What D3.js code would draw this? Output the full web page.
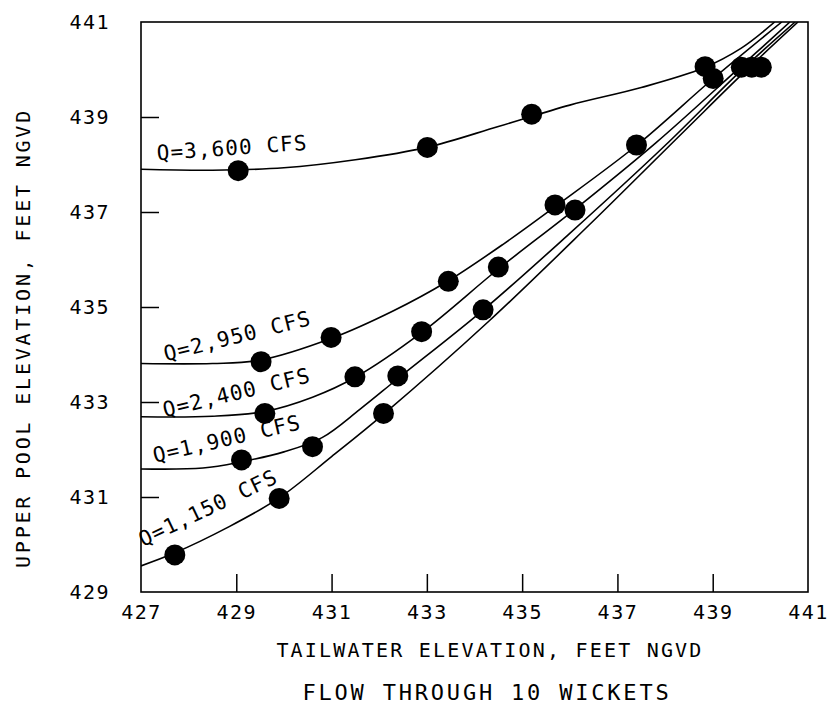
<!DOCTYPE html>
<html>
<head>
<meta charset="utf-8">
<script src="https://cdn.jsdelivr.net/npm/d3@7"></script>
<style>
  html, body { margin: 0; padding: 0; background: #fff; }
  svg { display: block; }
  text { font-family: "DejaVu Sans Mono", monospace; fill: #000; }
</style>
</head>
<body>
<svg id="chart" width="830" height="711"></svg>
<script>
// ---------- data ----------
const xTicks = [427, 429, 431, 433, 435, 437, 439, 441];
const yTicks = [429, 431, 433, 435, 437, 439, 441];

const seriesNames = ["Q=3,600 CFS", "Q=2,950 CFS", "Q=2,400 CFS", "Q=1,900 CFS", "Q=1,150 CFS"];

// observed points [tailwater, upper pool]
const pts3600 = [[429.04,437.87],[433.01,438.36],[435.20,439.06],[438.84,440.06]];
const pts2950 = [[429.52,433.85],[430.99,434.36],[433.45,435.54],[435.69,437.15],[437.40,438.41],[439.01,439.81]];
const pts2400 = [[429.60,432.76],[431.49,433.53],[432.89,434.48],[434.50,435.84],[436.11,437.04],[439.60,440.05]];
const pts1900 = [[429.11,431.78],[430.60,432.06],[432.39,433.55],[434.18,434.94],[439.82,440.05]];
const pts1150 = [[427.71,429.78],[429.90,430.97],[432.09,432.76],[440.02,440.05]];

// fitted curves
const crv3600 = [[427,437.90],[428.5,437.88],[430,437.93],[431.5,438.10],[433,438.36],[434.5,438.80],[436,439.25],[437.5,439.62],[438.8,440.03],[439.6,440.45],[440.3,441]];
const crv2950 = [[427,433.81],[428.5,433.81],[429.5,433.88],[431,434.34],[432.3,434.92],[433.4,435.52],[434.6,436.32],[435.7,437.12],[437.4,438.40],[439.0,439.80],[440.45,441]];
const crv2400 = [[427,432.69],[428.5,432.70],[429.6,432.80],[430.6,433.10],[431.5,433.52],[432.9,434.47],[434.5,435.80],[436.1,437.05],[437.8,438.45],[439.5,439.98],[440.62,441]];
const crv1900 = [[427,431.59],[428.3,431.61],[429.1,431.74],[430.0,431.95],[430.8,432.25],[431.6,432.85],[432.4,433.50],[434.2,434.95],[436.0,436.55],[438.0,438.40],[439.6,439.98],[440.73,441]];
const crv1150 = [[427,429.55],[427.7,429.82],[428.8,430.35],[429.9,430.98],[431.0,431.85],[432.1,432.75],[434.3,434.70],[436.4,436.72],[438.4,438.70],[439.7,439.98],[440.79,441]];

// ---------- layout ----------
const L = 141, R = 808, T = 22, B = 592;
const svg = d3.select("#chart");

const x = d3.scaleLinear().domain([427, 441]).range([L, R]);
const y = d3.scaleLinear().domain([429, 441]).range([B, T]);

const series = [
  {name: seriesNames[0], pts: pts3600, crv: crv3600, lab: [427.34, 438.09], ang: -4},
  {name: seriesNames[1], pts: pts2950, crv: crv2950, lab: [427.52, 433.86], ang: -14},
  {name: seriesNames[2], pts: pts2400, crv: crv2400, lab: [427.50, 432.68], ang: -13.5},
  {name: seriesNames[3], pts: pts1900, crv: crv1900, lab: [427.29, 431.72], ang: -13},
  {name: seriesNames[4], pts: pts1150, crv: crv1150, lab: [427.04, 429.95], ang: -25.5}
];

svg.append("defs").append("clipPath").attr("id", "plotclip")
  .append("rect").attr("x", L).attr("y", T).attr("width", R - L).attr("height", B - T);

// axes
const xAxis = d3.axisBottom(x).tickValues(xTicks).tickSize(-18).tickPadding(13).tickFormat(d3.format("d"));
const gx = svg.append("g").attr("transform", `translate(0,${B})`).call(xAxis);
gx.select(".domain").remove();
gx.selectAll(".tick line").attr("stroke", "#000").attr("stroke-width", 1.5)
  .filter(d => d === 427 || d === 441).remove();
gx.selectAll(".tick text").attr("font-size", 20).attr("font-family", "DejaVu Sans Mono")
  .style("letter-spacing", "1.5px").attr("fill", "#000");

const yAxis = d3.axisLeft(y).tickValues(yTicks).tickSize(-18).tickPadding(31).tickFormat(d3.format("d"));
const gy = svg.append("g").attr("transform", `translate(${L},0)`).call(yAxis);
gy.select(".domain").remove();
gy.selectAll(".tick line").attr("stroke", "#000").attr("stroke-width", 1.5)
  .filter(d => d === 429 || d === 441).remove();
gy.selectAll(".tick text").attr("font-size", 20).attr("font-family", "DejaVu Sans Mono")
  .style("letter-spacing", "1.5px").attr("fill", "#000");

// frame
svg.append("rect").attr("x", L).attr("y", T).attr("width", R - L).attr("height", B - T)
  .attr("fill", "none").attr("stroke", "#000").attr("stroke-width", 1.6);

// curves
const line = d3.line().x(d => x(d[0])).y(d => y(d[1])).curve(d3.curveCatmullRom.alpha(0.5));
const plot = svg.append("g").attr("clip-path", "url(#plotclip)");
plot.selectAll("path.crv").data(series).join("path")
  .attr("class", "crv")
  .attr("d", d => line(d.crv))
  .attr("fill", "none").attr("stroke", "#000").attr("stroke-width", 1.6);

// points
series.forEach(s => {
  svg.append("g").selectAll("circle").data(s.pts).join("circle")
    .attr("cx", d => x(d[0])).attr("cy", d => y(d[1])).attr("r", 10.5).attr("fill", "#000");
});

// curve labels
svg.selectAll("text.lab").data(series).join("text")
  .attr("class", "lab")
  .attr("transform", d => `translate(${x(d.lab[0])},${y(d.lab[1])}) rotate(${d.ang})`)
  .attr("font-size", 21)
  .style("letter-spacing", "1.1px")
  .text(d => d.name);

// axis titles
svg.append("text").attr("x", 490).attr("y", 657).attr("text-anchor", "middle")
  .attr("font-size", 20).style("letter-spacing", "2.2px")
  .text("TAILWATER ELEVATION, FEET NGVD");
svg.append("text").attr("x", 487).attr("y", 700).attr("text-anchor", "middle")
  .attr("font-size", 22).style("letter-spacing", "2.8px")
  .text("FLOW THROUGH 10 WICKETS");
svg.append("text").attr("transform", "translate(30,338) rotate(-90)").attr("text-anchor", "middle")
  .attr("font-size", 20).style("letter-spacing", "2.8px")
  .text("UPPER POOL ELEVATION, FEET NGVD");
</script>
</body>
</html>
